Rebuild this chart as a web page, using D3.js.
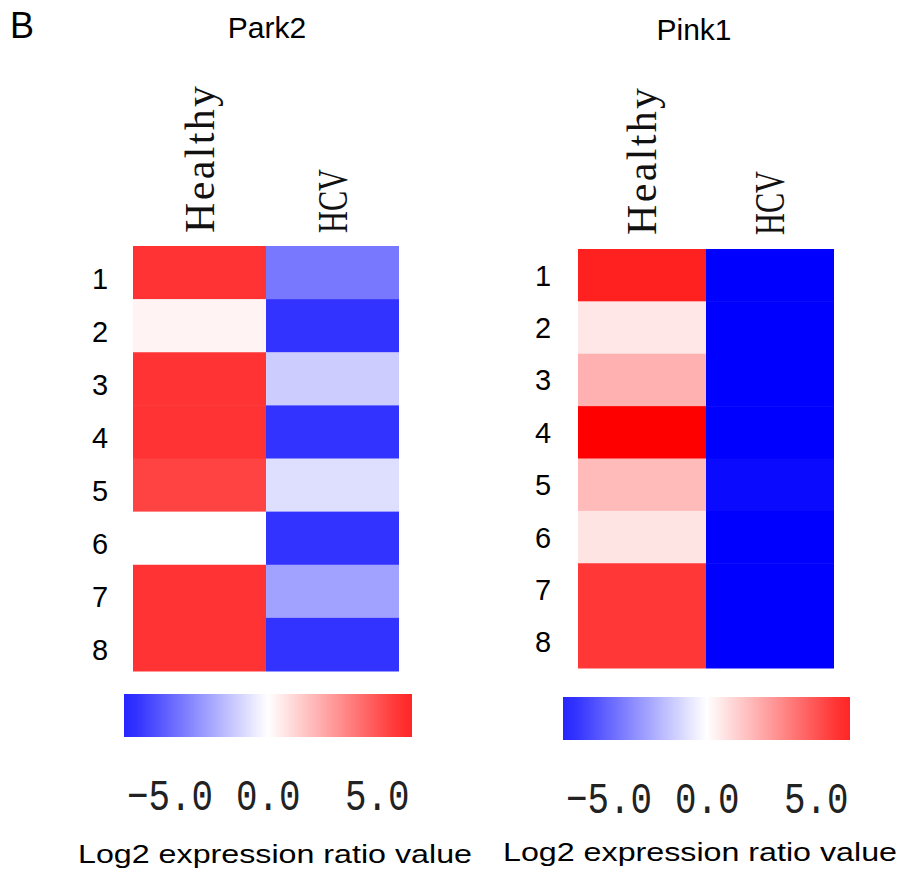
<!DOCTYPE html>
<html lang="en">
<head>
<meta charset="utf-8">
<title>Park2 / Pink1 heatmaps</title>
<script src="https://cdn.jsdelivr.net/npm/d3@7"></script>
<style>
  html, body { margin: 0; padding: 0; background: #fff; }
  svg { display: block; }
</style>
</head>
<body>
<div id="chart"></div>
<script>
// data: log2 expression ratios
var samples = [1, 2, 3, 4, 5, 6, 7, 8];
var groups = ["Healthy", "HCV"];
var park2Healthy = [5.0, 0.3, 5.0, 5.0, 4.6, 0.0, 5.0, 5.0];
var park2HCV = [-3.3, -5.0, -1.25, -5.0, -0.8, -5.0, -2.3, -5.0];
var pink1Healthy = [5.75, 0.6, 1.9, 7.0, 1.7, 0.66, 4.9, 4.9];
var pink1HCV = [-7.0, -7.0, -7.0, -7.0, -6.6, -7.0, -7.0, -7.0];
var legendTicks = [-5, 0, 5];
var legendTitle = "Log2 expression ratio value";

var w = 901, h = 876;

var color = d3.scaleLinear()
  .domain([-7, -5, 0, 5, 7])
  .range(["#0000ff", "#3333ff", "#ffffff", "#ff3333", "#ff0000"])
  .clamp(true);

var svg = d3.select("#chart").append("svg")
  .attr("width", w)
  .attr("height", h);

svg.append("text")
  .attr("x", 10).attr("y", 38)
  .attr("font-family", "Liberation Sans, Arial, sans-serif")
  .attr("font-size", 36)
  .text("B");

// shared gradient for the colour keys
var grad = svg.append("defs").append("linearGradient")
  .attr("id", "key").attr("x1", "0%").attr("x2", "100%");
grad.selectAll("stop")
  .data(d3.range(0, 1.0001, 0.05))
  .enter().append("stop")
  .attr("offset", function(t) { return (t * 100) + "%"; })
  .attr("stop-color", function(t) { return color(-5.5 + 11 * t); });

var panels = [
  {title: "Park2", values: [park2Healthy, park2HCV], titleX: 267, titleY: 38,
   x0: 133, x1: 399, y0: 246, y1: 671, colY: 233, rowX: 100, rowDy: 16,
   barX0: 124, barX1: 412, barY: 694, barH: 43, tickY: 810, legendX: 275, legendY: 863},
  {title: "Pink1", values: [pink1Healthy, pink1HCV], titleX: 694, titleY: 40,
   x0: 578, x1: 834, y0: 249, y1: 668, colY: 235, rowX: 543, rowDy: 10.5,
   barX0: 563, barX1: 850, barY: 697, barH: 43, tickY: 813, legendX: 700, legendY: 861}
];

panels.forEach(function(p) {
  var g = svg.append("g");

  g.append("text")
    .attr("x", p.titleX).attr("y", p.titleY)
    .attr("text-anchor", "middle")
    .attr("font-family", "Liberation Sans, Arial, sans-serif")
    .attr("font-size", 30)
    .text(p.title);

  var xScale = d3.scaleBand().domain(groups).range([p.x0, p.x1]);
  var yScale = d3.scaleBand().domain(samples).range([p.y0, p.y1]);

  var cells = [];
  groups.forEach(function(gr, gi) {
    samples.forEach(function(s, si) {
      cells.push({group: gr, sample: s, value: p.values[gi][si]});
    });
  });

  g.selectAll("rect.cell")
    .data(cells)
    .enter().append("rect")
    .attr("class", "cell")
    .attr("x", function(d) { return xScale(d.group); })
    .attr("y", function(d) { return yScale(d.sample); })
    .attr("width", xScale.bandwidth())
    .attr("height", yScale.bandwidth() + 0.5)
    .attr("fill", function(d) { return color(d.value); });

  // column labels, rotated
  g.selectAll("text.col")
    .data(groups)
    .enter().append("text")
    .attr("class", "col")
    .attr("transform", function(d) {
      return "translate(" + (xScale(d) + xScale.bandwidth() / 2 + 14) + "," + p.colY + ") rotate(-90)";
    })
    .attr("font-family", "Liberation Serif, Times New Roman, serif")
    .attr("font-size", 42)
    .attr("fill", "#111")
    .attr("textLength", function(d) { return d === "Healthy" ? 147 : 64; })
    .attr("lengthAdjust", function(d) { return d === "Healthy" ? "spacing" : "spacingAndGlyphs"; })
    .text(function(d) { return d; });

  // row labels
  g.selectAll("text.row")
    .data(samples)
    .enter().append("text")
    .attr("class", "row")
    .attr("x", p.rowX)
    .attr("y", function(d) { return yScale(d) + yScale.bandwidth() / 2 + p.rowDy; })
    .attr("text-anchor", "middle")
    .attr("font-family", "Liberation Sans, Arial, sans-serif")
    .attr("font-size", 29)
    .text(function(d) { return d; });

  // colour key
  g.append("rect")
    .attr("x", p.barX0).attr("y", p.barY)
    .attr("width", p.barX1 - p.barX0).attr("height", p.barH)
    .attr("fill", "url(#key)");

  var tickScale = d3.scaleLinear().domain([-5, 5]).range([p.barX0 + 3, p.barX0 + 221]);
  var fmt = d3.format(".1f");
  g.selectAll("text.tick")
    .data(legendTicks)
    .enter().append("text")
    .attr("class", "tick")
    .attr("x", function(d) { return tickScale(d); })
    .attr("y", p.tickY)
    .attr("font-family", "Liberation Mono, monospace")
    .attr("font-size", 44)
    .attr("fill", "#222")
    .attr("textLength", function(d) { return fmt(d).length * 21.5; })
    .attr("lengthAdjust", "spacingAndGlyphs")
    .text(function(d) { return fmt(d); });

  g.append("text")
    .attr("x", p.legendX).attr("y", p.legendY)
    .attr("text-anchor", "middle")
    .attr("font-family", "Liberation Sans, Arial, sans-serif")
    .attr("font-size", 26)
    .attr("textLength", 394)
    .attr("lengthAdjust", "spacingAndGlyphs")
    .text(legendTitle);
});
</script>
</body>
</html>
